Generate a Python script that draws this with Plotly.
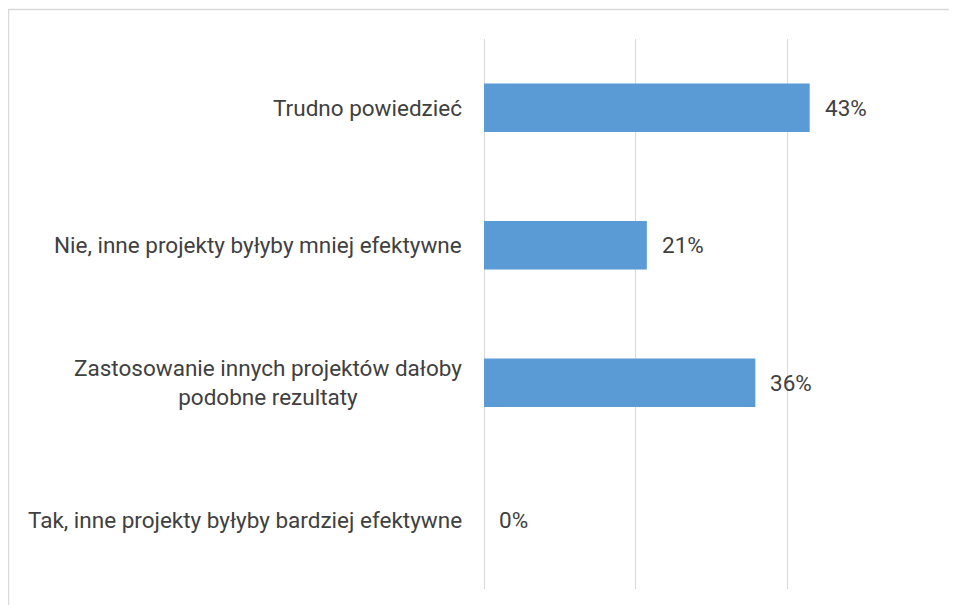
import plotly.graph_objects as go

# Survey answers, top to bottom as shown
categories = [
    "Trudno powiedzieć",
    "Nie, inne projekty byłyby mniej efektywne",
    "Zastosowanie innych projektów dałoby<br>podobne rezultaty",
    "Tak, inne projekty byłyby bardziej efektywne",
]
shares = [0.4286, 0.2143, 0.3571, 0.0]
share_labels = ["43%", "21%", "36%", "0%"]

# the page body has an 8px margin, so the figure is drawn 8px in from the corner
OFF = 8
W, H = 957 - OFF, 605 - OFF
L, R, T, B = 484 - OFF, 17, 39 - OFF, 24 - OFF
plot_w = W - L - R
plot_h = H - T - B

TEXT = "#404040"
GRID = "#d9d9d9"
FONT = "Roboto"
SIZE = 22.5

fig = go.Figure()

fig.add_trace(go.Bar(
    x=shares,
    y=categories,
    orientation="h",
    marker=dict(color="#5b9bd5", line=dict(width=0)),
    hoverinfo="skip",
))

# value labels, offset to the right of each bar end
for cat, val, lab in zip(categories, shares, share_labels):
    fig.add_annotation(
        x=val, y=cat, text=lab, showarrow=False,
        xanchor="left", xshift=13,
        font=dict(family=FONT, size=SIZE, color=TEXT),
    )

# category labels, centred when wrapped (like the original)
for cat in categories:
    fig.add_annotation(
        x=0, xref="paper", y=cat, text=cat, showarrow=False,
        xanchor="right", xshift=-20, align="center",
        font=dict(family=FONT, size=SIZE, color=TEXT),
    )

# light frame around the chart area
fig.add_shape(
    type="rect", xref="paper", yref="paper",
    x0=(8.5 - OFF - L) / plot_w, x1=(W + 20 - L) / plot_w,
    y0=-(B + 20) / plot_h, y1=1 + (T - (9.5 - OFF)) / plot_h,
    line=dict(color=GRID, width=1.5),
)

fig.update_layout(
    width=W, height=H,
    margin=dict(l=L, r=R, t=T, b=B),
    plot_bgcolor="white",
    paper_bgcolor="white",
    bargap=0.646,
    showlegend=False,
    font=dict(family=FONT, size=SIZE, color=TEXT),
)
fig.update_xaxes(
    range=[0, 0.6001], dtick=0.2, showgrid=True, gridcolor=GRID, gridwidth=1.3,
    zeroline=True, zerolinecolor=GRID, zerolinewidth=1.3,
    showticklabels=False, showline=False,
)
fig.update_yaxes(
    autorange="reversed", showticklabels=False, showgrid=False, showline=False,
)

fig.write_html("out.html")
